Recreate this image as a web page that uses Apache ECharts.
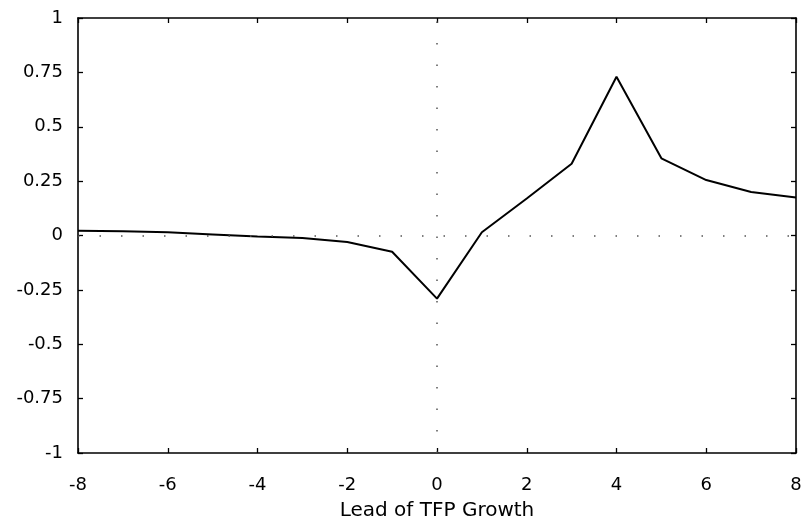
<!DOCTYPE html>
<html>
<head>
<meta charset="utf-8">
<script src="https://cdn.jsdelivr.net/npm/echarts@6/dist/echarts.min.js"></script>
<style>html,body{margin:0;padding:0;background:#fff}#c{width:807px;height:523px}</style>
</head>
<body>
<div id="c"></div>
<script>
var leads = [-8,-7,-6,-5,-4,-3,-2,-1,0,1,2,3,4,5,6,7,8];
var corr  = [0.022,0.02,0.015,0.005,-0.005,-0.012,-0.03,-0.075,-0.29,0.015,0.17,0.33,0.73,0.355,0.255,0.2,0.175];
var xTicks = [-8,-6,-4,-2,0,2,4,6,8];
var yTicks = [-1,-0.75,-0.5,-0.25,0,0.25,0.5,0.75,1];
var xTitle = 'Lead of TFP Growth';

var font = '"DejaVu Sans", "Liberation Sans", Arial, sans-serif';
var chart = echarts.init(document.getElementById('c'), null, {renderer:'canvas'});
function yfmt(v){ return String(v); }
var pts = leads.map(function(x,i){ return [x, corr[i]]; });
var axisLine = {show:true, onZero:false, lineStyle:{color:'#000', width:1.6}};
var tick = {show:true, inside:true, length:5, lineStyle:{color:'#000', width:1.3}};
chart.setOption({
  animation:false,
  backgroundColor:'#fff',
  textStyle:{fontFamily:font},
  grid:{left:78, right:11, top:18, bottom:70, containLabel:false, outerBoundsMode:'none'},
  xAxis:[{
    type:'value', min:-8, max:8, interval:2, position:'bottom',
    axisLine:axisLine, axisTick:tick, splitLine:{show:false},
    axisLabel:{color:'#000', fontFamily:font, fontSize:18, margin:23},
    name:xTitle, nameLocation:'middle', nameGap:48,
    nameTextStyle:{color:'#000', fontFamily:font, fontSize:20, verticalAlign:'top'}
  },{
    type:'value', min:-8, max:8, interval:2, position:'top',
    axisLine:axisLine, axisTick:tick, splitLine:{show:false}, axisLabel:{show:false}
  }],
  yAxis:[{
    type:'value', min:-1, max:1, interval:0.25, position:'left',
    axisLine:axisLine, axisTick:tick, splitLine:{show:false},
    axisLabel:{color:'#000', fontFamily:font, fontSize:18, margin:15, formatter:yfmt}
  },{
    type:'value', min:-1, max:1, interval:0.25, position:'right',
    axisLine:axisLine, axisTick:tick, splitLine:{show:false}, axisLabel:{show:false}
  }],
  series:[{
    type:'line', data:pts, showSymbol:false, symbol:'none',
    lineStyle:{color:'#000', width:2},
    markLine:{
      silent:true, symbol:['none','none'], label:{show:false},
      lineStyle:{color:'#555', width:1.5, type:[1.5,20]},
      data:[{yAxis:0},{xAxis:0}]
    }
  }]
});
</script>
</body>
</html>
